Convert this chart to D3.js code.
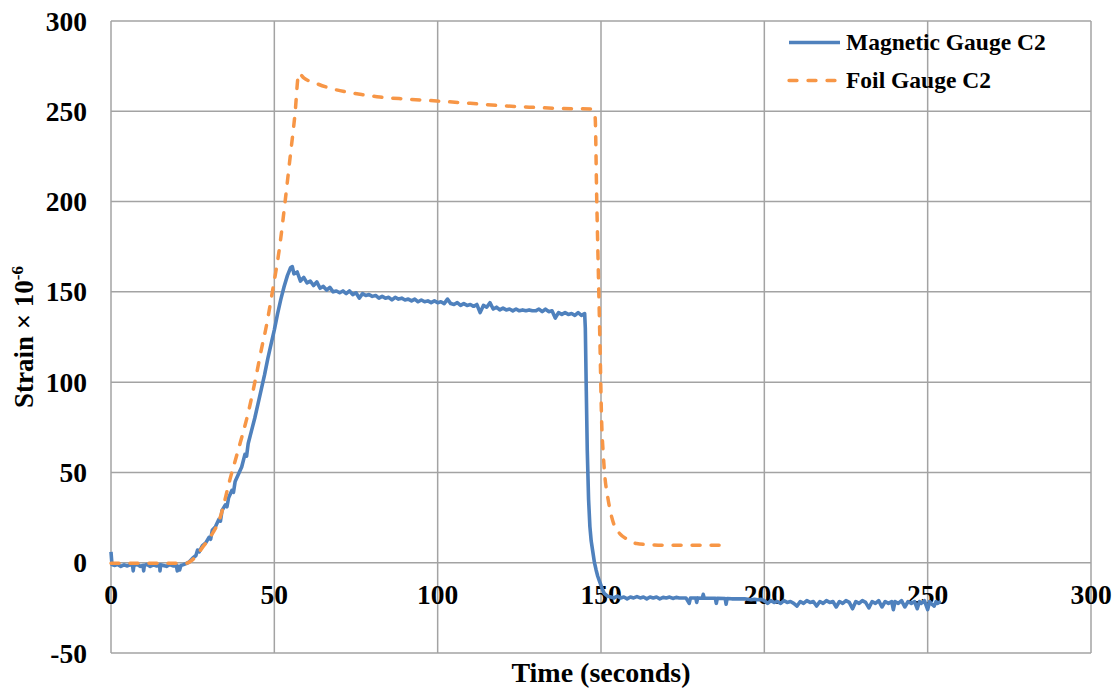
<!DOCTYPE html>
<html>
<head>
<meta charset="utf-8">
<script src="https://cdn.jsdelivr.net/npm/d3@7"></script>
<style>
  html, body { margin: 0; padding: 0; background: #ffffff; }
  svg { display: block; }
  text { font-family: "Liberation Serif", "Times New Roman", serif; font-weight: bold; fill: #000; }
</style>
</head>
<body>
<svg id="chart" width="1119" height="692"></svg>
<script>
// Axis ticks
const xTicks = [0, 50, 100, 150, 200, 250, 300];
const yTicks = [-50, 0, 50, 100, 150, 200, 250, 300];

// Series names
const seriesNames = ["Magnetic Gauge C2", "Foil Gauge C2"];

// Magnetic gauge C2: [time (s), strain (×10^-6)]
const magneticGauge = [
  [0, 6], [0.3, -1], [1, -1.5], [2, -1], [3, -2], [4, -1.2], [5, -1.8], [6, -1], [6.6, -1.5], [6.8, -4.5],
  [7, -1.5], [8, -1], [9, -2], [9.8, -1.5], [10, -4.5], [10.2, -1.5], [11, -1], [12, -2], [13, -1.2], [14, -1.8],
  [14.9, -1.2], [15, -4.5], [15.2, -1.2], [16, -1.5], [17, -2], [18, -1], [19, -1.8], [20, -1.5], [20.3, -4.5],
  [20.6, -2], [21, -4], [21.4, -1.5], [22, -1.2], [23, -0.5], [24, 0.5], [25, 2.5], [26, 4], [26.5, 7], [27, 6],
  [28, 9.5], [29, 11], [30, 14], [30.5, 13], [31, 18], [32, 20], [33, 24], [33.5, 23], [34, 29], [35, 32],
  [35.5, 31], [36, 36], [37, 40], [37.5, 39], [38, 45], [39, 49], [40, 53], [41, 60], [41.5, 59], [42, 66],
  [43, 73], [44, 80], [45, 88], [46, 96], [47, 104], [48, 113], [49, 121], [50, 129], [51, 138], [52, 146],
  [53, 153], [54, 159], [55, 163.5], [55.5, 164], [56, 160], [57, 161], [58, 156], [59, 158], [60, 155],
  [61, 156], [62, 153.5], [63, 155.5], [64, 152], [65, 153], [66, 151], [67, 152.5], [68, 150], [69, 150.5],
  [70, 149.5], [71, 150.5], [72, 149], [73, 150.5], [74, 148.5], [75, 149.5], [76, 146.5], [77, 149], [78, 148],
  [79, 148.5], [80, 147.5], [81, 148], [82, 146.5], [83, 147.5], [84, 146.5], [85, 147], [86, 145.5], [87, 147],
  [88, 146], [89, 146.5], [90, 145.5], [91, 146], [92, 145], [93, 146], [94, 144.5], [95, 145.5], [96, 144.5],
  [97, 145], [98, 144], [99, 145], [100, 144], [101, 144.5], [102, 143.5], [103, 146], [104, 143.5], [105, 143],
  [106, 144], [107, 142.5], [108, 143.5], [109, 142.5], [110, 143], [111, 142], [112, 143], [113, 138.5],
  [114, 142.5], [115, 141.5], [116, 144], [117, 140.5], [118, 141.5], [119, 140], [120, 141], [121, 140],
  [122, 140.5], [123, 139.5], [124, 140.5], [125, 139.5], [126, 140], [127, 139.5], [128, 140], [129, 139.5],
  [130, 139.5], [131, 140.5], [132, 139], [133, 140.5], [134, 139], [135, 139.5], [136, 135.5], [137, 138.5],
  [138, 137.5], [139, 138.5], [140, 137.5], [141, 138], [142, 137], [143, 138.5], [144, 137], [145, 138],
  [145.2, 130], [145.5, 95], [145.8, 62], [146.2, 35], [146.6, 20], [147, 12], [147.5, 6], [148, 0],
  [148.5, -4], [149, -7.5], [149.5, -10], [150, -12.5], [150.5, -15], [151, -17], [152, -18.5], [153, -19],
  [154, -19.5], [155, -18.5], [156, -19.5], [157, -19], [158, -20], [159, -19], [160, -19.5], [161, -18.8],
  [162, -19.5], [163, -19], [164, -20], [165, -19], [166, -19.5], [167, -19], [168, -20], [169, -19.2],
  [170, -19.5], [171, -19], [172, -19.8], [173, -19.2], [174, -19.5], [176, -19.5], [177, -22.5], [177.4, -19.5],
  [179, -19.5], [179.3, -22], [179.6, -19.5], [181, -19.7], [181.3, -17.5], [181.6, -19.7], [185, -19.7],
  [185.3, -22.5], [185.6, -19.7], [188, -19.8], [188.3, -23], [188.6, -19.8], [190, -20], [194, -20],
  [195, -20.2], [196, -20.5], [197, -20.2], [198, -20.5], [199, -20.3], [200, -21], [201, -22.5], [202, -21],
  [203, -22], [204, -21.5], [205, -22.5], [206, -21], [207, -22], [208, -21.5], [209, -22.5], [210, -24],
  [211, -21.5], [212, -22.5], [213, -21], [214, -22], [215, -21.5], [216, -24], [217, -21.5], [218, -22.5],
  [219, -21], [220, -22], [221, -21.5], [222, -24.5], [223, -21.5], [224, -22.5], [225, -21], [226, -22],
  [227, -25.5], [228, -21.5], [229, -22.5], [230, -21], [231, -22], [232, -25], [233, -21.5], [234, -22.5],
  [235, -21], [236, -24.5], [237, -21.5], [238, -22.5], [239, -21.5], [239.5, -26], [240, -21.5], [241, -22.5],
  [242, -21], [243, -24.5], [244, -21.5], [245, -22.5], [246, -21.5], [246.8, -25.5], [247.5, -21.5],
  [248, -22.5], [249, -21], [250, -26], [250.6, -21.5], [251, -22.5], [252, -24], [252.6, -21.5], [253, -22.5],
  [254, -21.5]
];

// Foil gauge C2: [time (s), strain (×10^-6)]
const foilGauge = [
  [0, -0.3], [23, -0.3], [24.5, 1], [26.2, 4], [28, 8.5], [30.3, 14], [33.4, 25], [36.4, 46], [39.5, 66],
  [42, 83], [44.6, 105], [46.6, 123], [47.1, 127], [49.4, 150], [51.7, 176], [53.3, 200], [54.8, 224],
  [56.3, 248], [57.5, 271], [59, 268.5], [63, 265.3], [67, 262.8], [72, 260.7], [77, 259.2], [82.3, 257.9],
  [90, 256.8], [99.7, 255.7], [110, 254.4], [118, 253.3], [128, 252.3], [138.5, 251.5], [147.1, 251.3],
  [148.2, 246.8], [148.7, 200.7], [149.2, 160], [149.7, 120], [150.2, 78], [150.7, 60], [151.2, 47.5],
  [152, 37], [152.8, 29], [154, 21], [155.8, 16], [158, 13], [160.9, 10.6], [165, 10], [170.1, 9.7], [186.4, 9.7]
];

const colors = ["#4f81bd", "#f79646"];

const svg = d3.select("#chart");
const plot = { left: 111, right: 1091, top: 21, bottom: 653 };

const x = d3.scaleLinear().domain([0, 300]).range([plot.left, plot.right]);
const y = d3.scaleLinear().domain([-50, 300]).range([plot.bottom, plot.top]);

const gridColor = "#a3a3a3";

// Horizontal gridlines
svg.append("g")
  .selectAll("line")
  .data(yTicks)
  .join("line")
  .attr("x1", plot.left).attr("x2", plot.right)
  .attr("y1", d => y(d)).attr("y2", d => y(d))
  .attr("stroke", gridColor).attr("stroke-width", 1.5);

// Vertical gridlines
svg.append("g")
  .selectAll("line")
  .data(xTicks)
  .join("line")
  .attr("x1", d => x(d)).attr("x2", d => x(d))
  .attr("y1", plot.top).attr("y2", plot.bottom)
  .attr("stroke", gridColor).attr("stroke-width", 1.5);

// Y tick labels
svg.append("g")
  .selectAll("text")
  .data(yTicks)
  .join("text")
  .attr("x", 87)
  .attr("y", d => y(d) + 9.5)
  .attr("text-anchor", "end")
  .attr("font-size", 27.5)
  .text(d => d);

// X tick labels, placed below the zero line
svg.append("g")
  .selectAll("text")
  .data(xTicks)
  .join("text")
  .attr("x", d => x(d))
  .attr("y", y(0) + 41.5)
  .attr("text-anchor", "middle")
  .attr("font-size", 27.5)
  .text(d => d);

// Series lines
const lineLinear = d3.line().x(d => x(d[0])).y(d => y(d[1]));
const lineSmooth = d3.line().x(d => x(d[0])).y(d => y(d[1])).curve(d3.curveMonotoneX);

svg.append("path")
  .datum(magneticGauge)
  .attr("d", lineLinear)
  .attr("fill", "none")
  .attr("stroke", colors[0])
  .attr("stroke-width", 3.6)
  .attr("stroke-linejoin", "round");

svg.append("path")
  .datum(foilGauge)
  .attr("d", lineSmooth)
  .attr("fill", "none")
  .attr("stroke", colors[1])
  .attr("stroke-width", 3.5)
  .attr("stroke-linecap", "round")
  .attr("stroke-dasharray", "8,11");

// Legend
const legend = svg.append("g");
seriesNames.forEach((name, i) => {
  const ly = 42.5 + i * 38;
  legend.append("line")
    .attr("x1", 789).attr("x2", 840)
    .attr("y1", ly).attr("y2", ly)
    .attr("stroke", colors[i])
    .attr("stroke-width", 3.3)
    .attr("stroke-linecap", i === 1 ? "round" : "butt")
    .attr("stroke-dasharray", i === 1 ? "8,11" : null);
  legend.append("text")
    .attr("x", 846)
    .attr("y", ly + 7.5)
    .attr("font-size", 23.5)
    .text(name);
});

// Axis titles
svg.append("text")
  .attr("x", (plot.left + plot.right) / 2)
  .attr("y", 682)
  .attr("text-anchor", "middle")
  .attr("font-size", 28)
  .text("Time (seconds)");

const yTitle = svg.append("text")
  .attr("transform", `translate(33, ${(plot.top + plot.bottom) / 2}) rotate(-90)`)
  .attr("text-anchor", "middle")
  .attr("font-size", 27);
yTitle.append("tspan").text("Strain × 10");
yTitle.append("tspan").attr("font-size", 17).attr("dy", -10).text("-6");
</script>
</body>
</html>
